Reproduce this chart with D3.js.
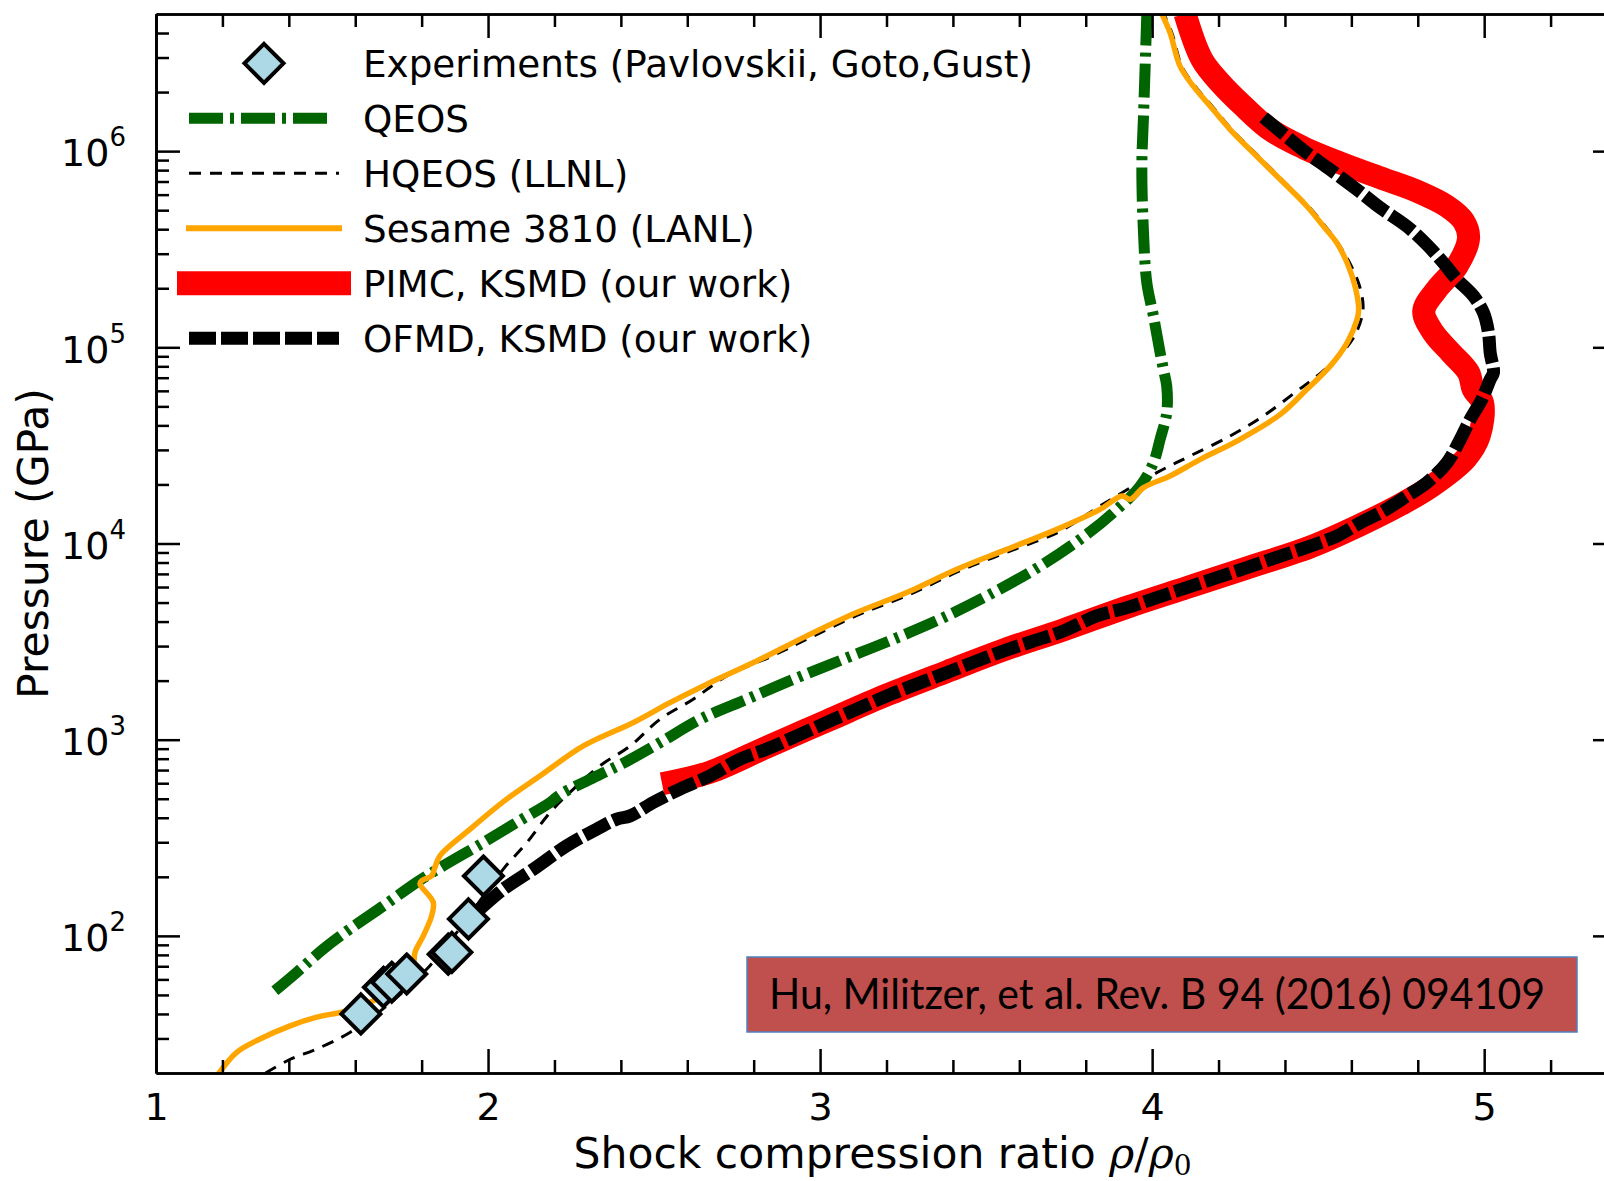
<!DOCTYPE html>
<html>
<head>
<meta charset="utf-8">
<script src="https://d3js.org/d3.v7.min.js"></script>
<style>
  body { margin: 0; background: #fff; }
  svg { display: block; }
  text { font-family: "DejaVu Sans", sans-serif; fill: #000; }
</style>
</head>
<body>
<svg id="chart"></svg>
<script>
// Experiments (Pavlovskii, Goto, Gust)
const expX = [1.617, 1.685, 1.710, 1.755, 1.880, 1.891, 1.941, 1.986];
const expP = [40, 54.7, 58, 63.9, 80.7, 82.4, 122, 202];

// QEOS
const qeosX = [1.358, 1.424, 1.504, 1.584, 1.685, 1.785, 1.865, 1.986, 2.086, 2.187, 2.217, 2.317, 2.418, 2.518, 2.639, 2.779, 2.920, 3.070, 3.221, 3.371, 3.522, 3.663, 3.783, 3.883, 3.964, 4.004, 4.024, 4.044, 4.044, 4.034, 4.024, 4.004, 3.984, 3.974, 3.969, 3.974, 3.979, 3.984];
const qeosP = [52.5, 65.2, 85.7, 108.4, 142.2, 187.5, 227.5, 299.2, 378.4, 478.6, 525, 640, 776, 966, 1271, 1607, 2032, 2570, 3251, 4188, 5623, 7674, 10495, 14355, 19634, 25823, 33963, 46452, 63387, 77090, 93972, 144212, 213304, 383707, 837529, 1506607, 2710192, 5011872];

// HQEOS (LLNL)
const hqX = [1.330, 1.404, 1.484, 1.584, 1.700, 1.825, 1.920, 2.046, 2.117, 2.187, 2.257, 2.337, 2.428, 2.518, 2.618, 2.719, 2.860, 2.970, 3.120, 3.270, 3.420, 3.570, 3.720, 3.843, 4.014, 4.114, 4.235, 4.335, 4.436, 4.496, 4.560, 4.610, 4.635, 4.625, 4.595, 4.560, 4.520, 4.470, 4.400, 4.320, 4.240, 4.180, 4.130, 4.090, 4.060, 4.035];
const hqP = [20, 23.5, 26.5, 32.2, 44.7, 70.5, 112, 219, 299, 426, 560, 736, 929, 1271, 1607, 2113, 2692, 3311, 4365, 5495, 7244, 9120, 11482, 15524, 22961, 27925, 35318, 44668, 59841, 71285, 89125, 114815, 154882, 204174, 269153, 338844, 416869, 524807, 691831, 944061, 1288250, 1698244, 2137962, 2691535, 3981072, 5011872];

// Sesame 3810 (LANL)
const sesX = [1.185, 1.243, 1.313, 1.404, 1.484, 1.574, 1.665, 1.745, 1.775, 1.780, 1.805, 1.830, 1.835, 1.795, 1.800, 1.830, 1.840, 1.855, 1.946, 2.056, 2.157, 2.287, 2.438, 2.548, 2.659, 2.809, 2.960, 3.110, 3.261, 3.412, 3.562, 3.713, 3.843, 3.909, 3.934, 3.974, 4.054, 4.145, 4.255, 4.386, 4.466, 4.536, 4.587, 4.617, 4.622, 4.611, 4.587, 4.556, 4.516, 4.466, 4.396, 4.315, 4.235, 4.175, 4.124, 4.084, 4.054, 4.029];
const sesP = [19.5, 25.5, 29.8, 34.8, 38.5, 41.5, 47.6, 57.9, 70.5, 82.4, 100, 126.5, 148.3, 183.7, 191, 202.3, 223.4, 255.9, 349.9, 497.7, 654.6, 929, 1224, 1545, 1919, 2518, 3381, 4446, 5623, 7396, 9333, 11803, 14928, 17458, 16788, 19275, 22080, 26853, 33266, 45499, 61094, 80168, 105439, 138676, 155955, 205116, 269774, 341193, 414000, 523600, 690240, 941889, 1288250, 1694338, 2142891, 2710192, 4008667, 5011872];

// PIMC, KSMD (our work)
const pimcX = [2.524, 2.669, 2.839, 3.020, 3.201, 3.382, 3.552, 3.733, 3.924, 4.104, 4.285, 4.476, 4.627, 4.750, 4.842, 4.945, 4.985, 4.995, 4.967, 4.953, 4.900, 4.847, 4.818, 4.857, 4.918, 4.953, 4.938, 4.888, 4.797, 4.687, 4.566, 4.456, 4.355, 4.275, 4.205, 4.150, 4.099];
const pimcP = [596, 684, 916, 1245, 1690, 2223, 2864, 3631, 4732, 5957, 7499, 9594, 12445, 15849, 19634, 27164, 35318, 52240, 61094, 74302, 93756, 118577, 152757, 197242, 259418, 361410, 439542, 523600, 625173, 731139, 870964, 1039920, 1288250, 1694338, 2228435, 2930893, 5011872];

// OFMD, KSMD (our work)
const ofmdX = [1.976, 2.046, 2.137, 2.237, 2.327, 2.388, 2.428, 2.498, 2.578, 2.669, 2.759, 2.839, 2.930, 3.020, 3.110, 3.201, 3.291, 3.382, 3.472, 3.552, 3.643, 3.733, 3.833, 3.924, 4.014, 4.104, 4.195, 4.285, 4.386, 4.476, 4.556, 4.627, 4.697, 4.767, 4.827, 4.888, 4.928, 4.958, 4.993, 5.018, 5.028, 5.018, 5.013, 4.998, 4.968, 4.918, 4.877, 4.827, 4.767, 4.687, 4.617, 4.536, 4.466, 4.386, 4.325];
const ofmdP = [137, 173, 219, 288, 350, 394, 409, 479, 560, 655, 796, 895, 1045, 1225, 1429, 1671, 1919, 2198, 2518, 2831, 3184, 3581, 4276, 4710, 5297, 5957, 6699, 7534, 8630, 9705, 10914, 12764, 14655, 17458, 20417, 25823, 33963, 42954, 54325, 68549, 74302, 93972, 118577, 149968, 182390, 221820, 269774, 334195, 414000, 514044, 636796, 805378, 979490, 1261915, 1538155];

// ticks and labels
const xMajor = [1, 2, 3, 4, 5];
const yMajor = [1e2, 1e3, 1e4, 1e5, 1e6];
const legendLabels = ["Experiments (Pavlovskii, Goto,Gust)", "QEOS", "HQEOS (LLNL)", "Sesame 3810 (LANL)", "PIMC, KSMD (our work)", "OFMD, KSMD (our work)"];
const citation = "Hu, Militzer, et al. Rev. B 94 (2016) 094109";

const width = 1604, height = 1181;
const padL = 156, padR = 1617, padT = 14, padB = 1073;

const svg = d3.select("#chart").attr("width", width).attr("height", height);

const x = d3.scaleLinear().domain([1, 5.4]).range([padL, padR]);
const y = d3.scaleLog().domain([20, 5e6]).range([padB, padT]);

const xMinor = d3.range(1.2, 5.4, 0.2).filter(v => Math.abs(v - Math.round(v)) > 0.01);
const yMinor = [];
[10, 100, 1e3, 1e4, 1e5, 1e6].forEach(b => d3.range(2, 10).forEach(m => {
    const v = m * b;
    if (v > 20 && v < 5e6) yMinor.push(v);
}));

svg.append("clipPath").attr("id", "clip")
    .append("rect")
    .attr("x", padL).attr("y", padT)
    .attr("width", padR - padL).attr("height", padB - padT);

const zip = (xs, ps) => xs.map((v, i) => [v, ps[i]]);
const line = d3.line()
    .x(d => x(d[0]))
    .y(d => y(d[1]))
    .curve(d3.curveCatmullRom.alpha(0.5));

const plot = svg.append("g").attr("clip-path", "url(#clip)");

// HQEOS
plot.append("path")
    .attr("d", line(zip(hqX, hqP)))
    .attr("fill", "none").attr("stroke", "#000")
    .attr("stroke-width", 3).attr("stroke-dasharray", "12,9");

// QEOS
plot.append("path")
    .attr("d", line(zip(qeosX, qeosP)))
    .attr("fill", "none").attr("stroke", "#006400")
    .attr("stroke-width", 11).attr("stroke-dasharray", "34,7,4,7");

// Sesame
plot.append("path")
    .attr("d", line(zip(sesX, sesP)))
    .attr("fill", "none").attr("stroke", "#FFA500")
    .attr("stroke-width", 5.5).attr("stroke-linejoin", "round");

// PIMC
plot.append("path")
    .attr("d", line(zip(pimcX, pimcP)))
    .attr("fill", "none").attr("stroke", "#FF0000")
    .attr("stroke-width", 23).attr("stroke-linecap", "butt");

// OFMD
plot.append("path")
    .attr("d", line(zip(ofmdX, ofmdP)))
    .attr("fill", "none").attr("stroke", "#000")
    .attr("stroke-width", 13).attr("stroke-dasharray", "27,5");

// Experiments
const diamond = r => `M0,${-r}L${r},0L0,${r}L${-r},0Z`;
svg.append("g").selectAll("path")
    .data(zip(expX, expP))
    .enter()
    .append("path")
    .attr("d", diamond(19.5))
    .attr("transform", d => `translate(${x(d[0])},${y(d[1])})`)
    .attr("fill", "#ADD8E6").attr("stroke", "#000").attr("stroke-width", 4);

// Axes
function styleAxis(g) {
    g.select(".domain").attr("stroke", "#000").attr("stroke-width", 2.7);
    g.selectAll(".tick line").attr("stroke", "#000").attr("stroke-width", 2.5);
    g.selectAll(".tick text").attr("font-size", 38).attr("fill", "#000");
}

svg.append("g").attr("transform", `translate(0,${padB})`)
    .call(d3.axisBottom(x).tickValues(xMinor).tickSizeInner(-13).tickSizeOuter(0).tickFormat(""))
    .call(styleAxis);
svg.append("g").attr("transform", `translate(0,${padB})`)
    .call(d3.axisBottom(x).tickValues(xMajor).tickSizeInner(-24).tickSizeOuter(0).tickPadding(20).tickFormat(d3.format("d")))
    .call(styleAxis);
svg.append("g").attr("transform", `translate(0,${padT})`)
    .call(d3.axisTop(x).tickValues(xMinor).tickSizeInner(-13).tickSizeOuter(0).tickFormat(""))
    .call(styleAxis);
svg.append("g").attr("transform", `translate(0,${padT})`)
    .call(d3.axisTop(x).tickValues(xMajor).tickSizeInner(-24).tickSizeOuter(0).tickFormat(""))
    .call(styleAxis);

svg.append("g").attr("transform", `translate(${padL},0)`)
    .call(d3.axisLeft(y).tickValues(yMinor).tickSizeInner(-13).tickSizeOuter(0).tickFormat(""))
    .call(styleAxis);
const gy = svg.append("g").attr("transform", `translate(${padL},0)`)
    .call(d3.axisLeft(y).tickValues(yMajor).tickSizeInner(-24).tickSizeOuter(0).tickPadding(30).tickFormat(""))
    .call(styleAxis);
svg.append("g").attr("transform", `translate(${padR},0)`)
    .call(d3.axisRight(y).tickValues(yMinor).tickSizeInner(-13).tickSizeOuter(0).tickFormat(""))
    .call(styleAxis);
svg.append("g").attr("transform", `translate(${padR},0)`)
    .call(d3.axisRight(y).tickValues(yMajor).tickSizeInner(-24).tickSizeOuter(0).tickFormat(""))
    .call(styleAxis);

gy.selectAll(".tick text").each(function(d) {
    const t = d3.select(this).attr("dy", "0.39em");
    t.append("tspan").text("10");
    t.append("tspan").attr("font-size", 26).attr("dy", -20).text(Math.round(Math.log10(d)));
});

// Axis labels
const xl = svg.append("text")
    .attr("x", (padL + padR) / 2 - 4).attr("y", 1168)
    .attr("text-anchor", "middle").attr("font-size", 42.5);
xl.append("tspan").text("Shock compression ratio ");
xl.append("tspan").attr("font-family", "DejaVu Serif").attr("font-style", "italic").text("ρ");
xl.append("tspan").attr("font-family", "DejaVu Serif").text("/");
xl.append("tspan").attr("font-family", "DejaVu Serif").attr("font-style", "italic").text("ρ");
xl.append("tspan").attr("font-family", "DejaVu Serif").attr("font-size", 28).attr("dy", 7).text("0");

svg.append("text")
    .attr("transform", `translate(48,${(padT + padB) / 2}) rotate(-90)`)
    .attr("text-anchor", "middle").attr("font-size", 42.5)
    .text("Pressure (GPa)");

// Legend
const legend = svg.append("g");
const rowY = i => 63.3 + i * 55;
const hx0 = 189, hx1 = 339, textX = 363;

legend.append("path").attr("d", diamond(19.5))
    .attr("transform", `translate(264,${rowY(0)})`)
    .attr("fill", "#ADD8E6").attr("stroke", "#000").attr("stroke-width", 4);

const handles = [
    null,
    { stroke: "#006400", w: 11, dash: "34,7,4,7", cap: "butt", x1: 333 },
    { stroke: "#000", w: 3, dash: "12,9", cap: "butt", x1: 339 },
    { stroke: "#FFA500", w: 6, dash: null, cap: "square", x1: hx1 },
    { stroke: "#FF0000", w: 24, dash: null, cap: "square", x1: hx1 },
    { stroke: "#000", w: 13, dash: "27,5", cap: "butt", x1: hx1 }
];
handles.forEach((h, i) => {
    if (!h) return;
    legend.append("line")
        .attr("x1", hx0).attr("x2", h.x1)
        .attr("y1", rowY(i)).attr("y2", rowY(i))
        .attr("stroke", h.stroke).attr("stroke-width", h.w)
        .attr("stroke-linecap", h.cap)
        .attr("stroke-dasharray", h.dash);
});
legendLabels.forEach((lab, i) => {
    legend.append("text")
        .attr("x", textX).attr("y", rowY(i) + 13.5)
        .attr("font-size", 37.3)
        .text(lab);
});

// Citation box
svg.append("rect")
    .attr("x", 747).attr("y", 957)
    .attr("width", 830).attr("height", 75)
    .attr("fill", "#C0504D").attr("stroke", "#4F81BD").attr("stroke-width", 1.5);
svg.append("text")
    .attr("x", 769).attr("y", 1009)
    .attr("font-size", 42)
    .attr("textLength", 776).attr("lengthAdjust", "spacingAndGlyphs")
    .style("font-family", "Lato, sans-serif")
    .text(citation);
</script>
</body>
</html>
